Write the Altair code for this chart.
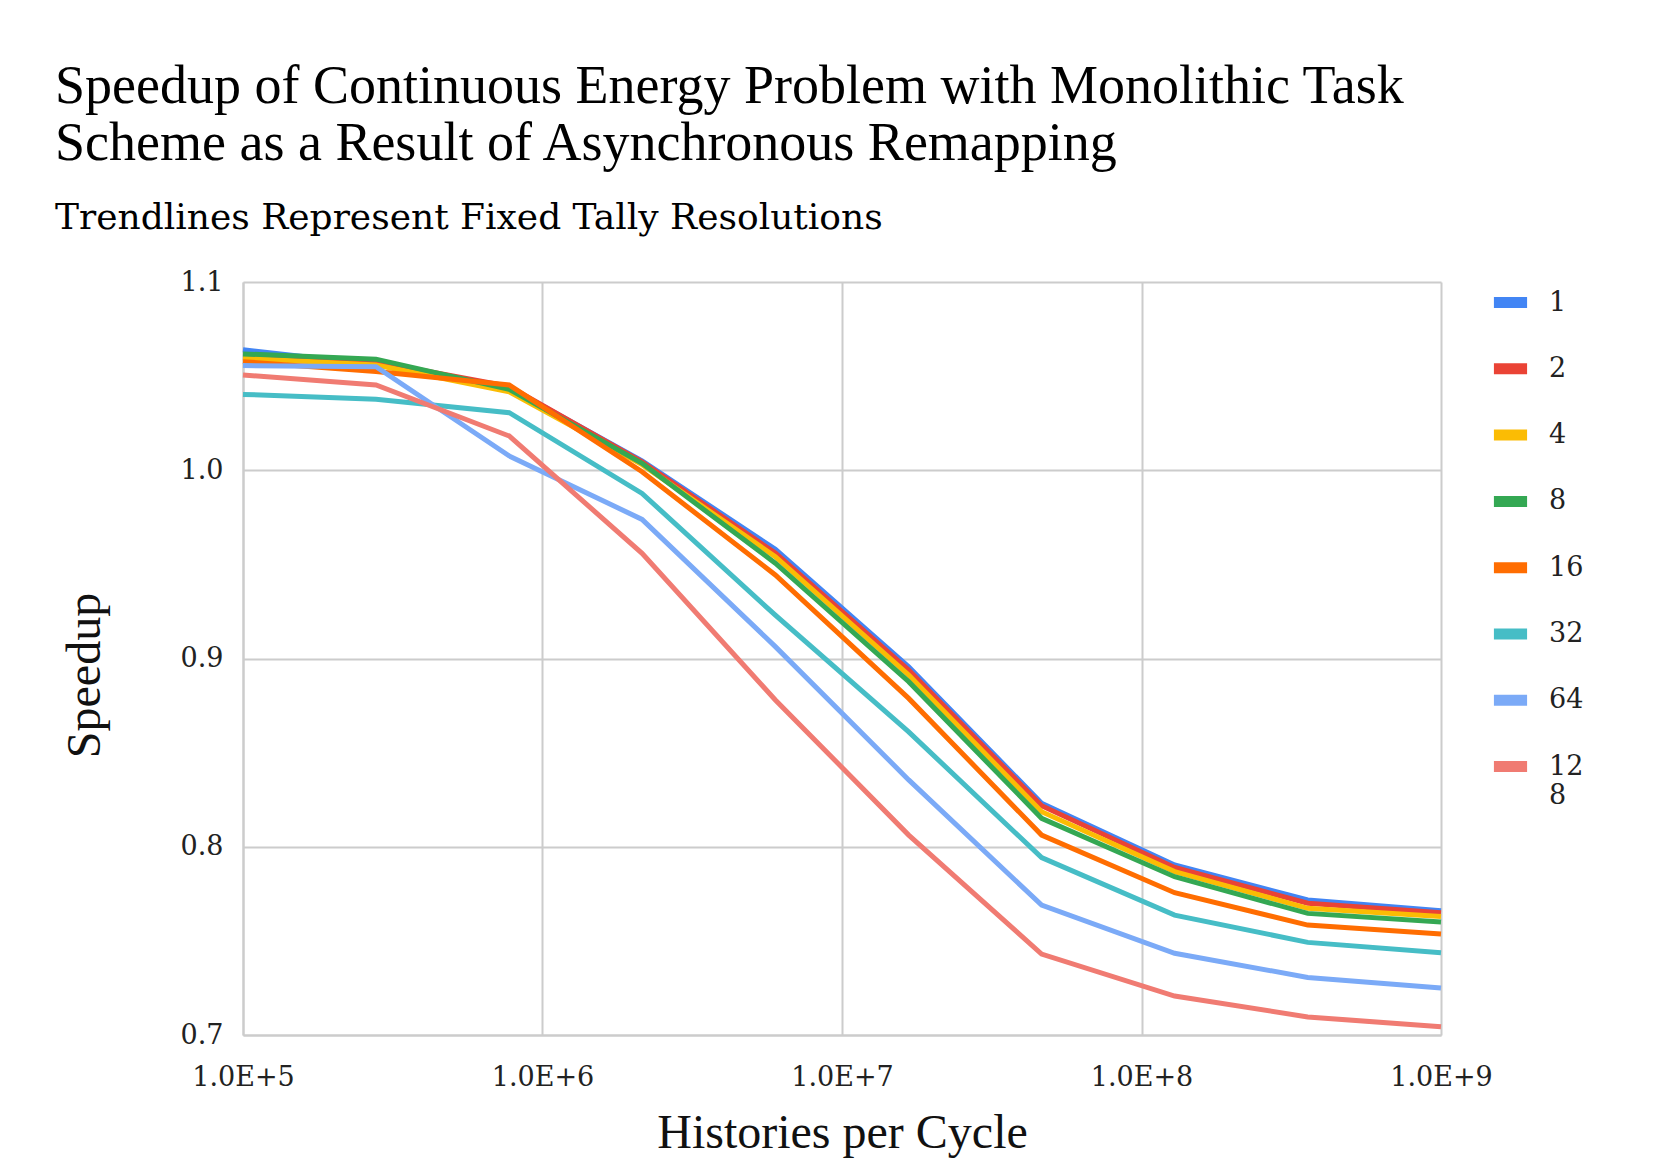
import altair as alt
import pandas as pd

histories = [1e5, 2.78e5, 7.74e5, 2.15e6, 5.99e6, 1.67e7, 4.64e7, 1.29e8, 3.59e8, 1e9]
series_names = ["1", "2", "4", "8", "16", "32", "64", "128"]
s1 = [1.064, 1.056, 1.044, 1.005, 0.958, 0.8956, 0.8231, 0.7903, 0.7717, 0.766]
s2 = [1.060, 1.0577, 1.0445, 1.0045, 0.956, 0.8939, 0.8218, 0.789, 0.770, 0.765]
s4 = [1.0595, 1.0559, 1.0417, 1.003, 0.9541, 0.8912, 0.8186, 0.7868, 0.7673, 0.763]
s8 = [1.0618, 1.059, 1.043, 1.0037, 0.9506, 0.8877, 0.8151, 0.7841, 0.7646, 0.760]
s16 = [1.0577, 1.0524, 1.0453, 0.9992, 0.9444, 0.8788, 0.8062, 0.7756, 0.7584, 0.7536]
s32 = [1.0403, 1.0377, 1.0306, 0.9877, 0.923, 0.861, 0.7942, 0.7637, 0.7492, 0.7437]
s64 = [1.0556, 1.055, 1.0076, 0.9739, 0.9063, 0.8355, 0.769, 0.7434, 0.7306, 0.725]
s128 = [1.0506, 1.0453, 1.0182, 0.9559, 0.878, 0.8062, 0.743, 0.7207, 0.7096, 0.7044]
colors = ["#4285F4", "#EA4335", "#FBBC04", "#34A853", "#FF6D01", "#46BDC6", "#7BAAF7", "#F07B72"]

all_series = [s1, s2, s4, s8, s16, s32, s64, s128]
rows = []
for name, vals in zip(series_names, all_series):
    for h, v in zip(histories, vals):
        rows.append({"Histories": h, "Speedup": v, "Tally": name})
df = pd.DataFrame(rows)

SERIF = "Liberation Serif"
WIDE = "DejaVu Serif"

chart = alt.Chart(df).mark_line(strokeWidth=5).encode(
    x=alt.X("Histories:Q",
            scale=alt.Scale(type="log", domain=[1e5, 1e9], nice=False),
            axis=alt.Axis(values=[1e5, 1e6, 1e7, 1e8, 1e9],
                          labelExpr="'1.0E+' + round(log(datum.value)/LN10)",
                          labelFlush=False,
                          title="Histories per Cycle")),
    y=alt.Y("Speedup:Q",
            scale=alt.Scale(domain=[0.7, 1.1], nice=False, zero=False),
            axis=alt.Axis(values=[0.7, 0.8, 0.9, 1.0, 1.1], format=".1f", title="Speedup",
                          labelFlush=False,
                          titleX=-158, titleY=393, titleAlign="center", titleBaseline="middle",
                          titleAngle=270)),
    color=alt.Color("Tally:N", sort=series_names,
                    scale=alt.Scale(domain=series_names, range=colors),
                    legend=alt.Legend(title=None, orient="none", legendX=1245, legendY=-2,
                                      symbolType="stroke", symbolSize=1100, symbolStrokeWidth=11,
                                      labelExpr="datum.label == '128' ? ['12', '8'] : datum.label",
                                      labelFont=WIDE, labelFontSize=27, labelColor="#222",
                                      labelOffset=16, rowPadding=21.3, padding=0)),
).properties(
    width=1198, height=753,
    autosize=alt.AutoSizeParams(type="none"),
    padding={"left": 235, "top": 274, "right": 212, "bottom": 131},
    title=alt.TitleParams(
        text=["Speedup of Continuous Energy Problem with Monolithic Task",
              "Scheme as a Result of Asynchronous Remapping"],
        subtitle="Trendlines Represent Fixed Tally Resolutions",
        anchor="start", frame="group", dx=-188,
        font=SERIF, fontSize=54, fontWeight="normal", color="#000", lineHeight=57,
        subtitleFont=WIDE, subtitleFontSize=36, subtitleColor="#000", subtitlePadding=30,
        offset=32,
    ),
).configure_view(stroke=None).configure_axis(
    domainColor="#cccccc", domainWidth=2, gridColor="#cccccc", gridWidth=2, ticks=False,
    labelFont=WIDE, labelFontSize=27, labelColor="#222",
    titleFont=SERIF, titleFontSize=48, titleFontWeight="normal", titleColor="#111",
).configure_axisX(
    labelPadding=29, titlePadding=19,
).configure_axisY(
    labelPadding=20,
)

chart.save("out.html", embed_options={"renderer": "svg", "actions": False})
